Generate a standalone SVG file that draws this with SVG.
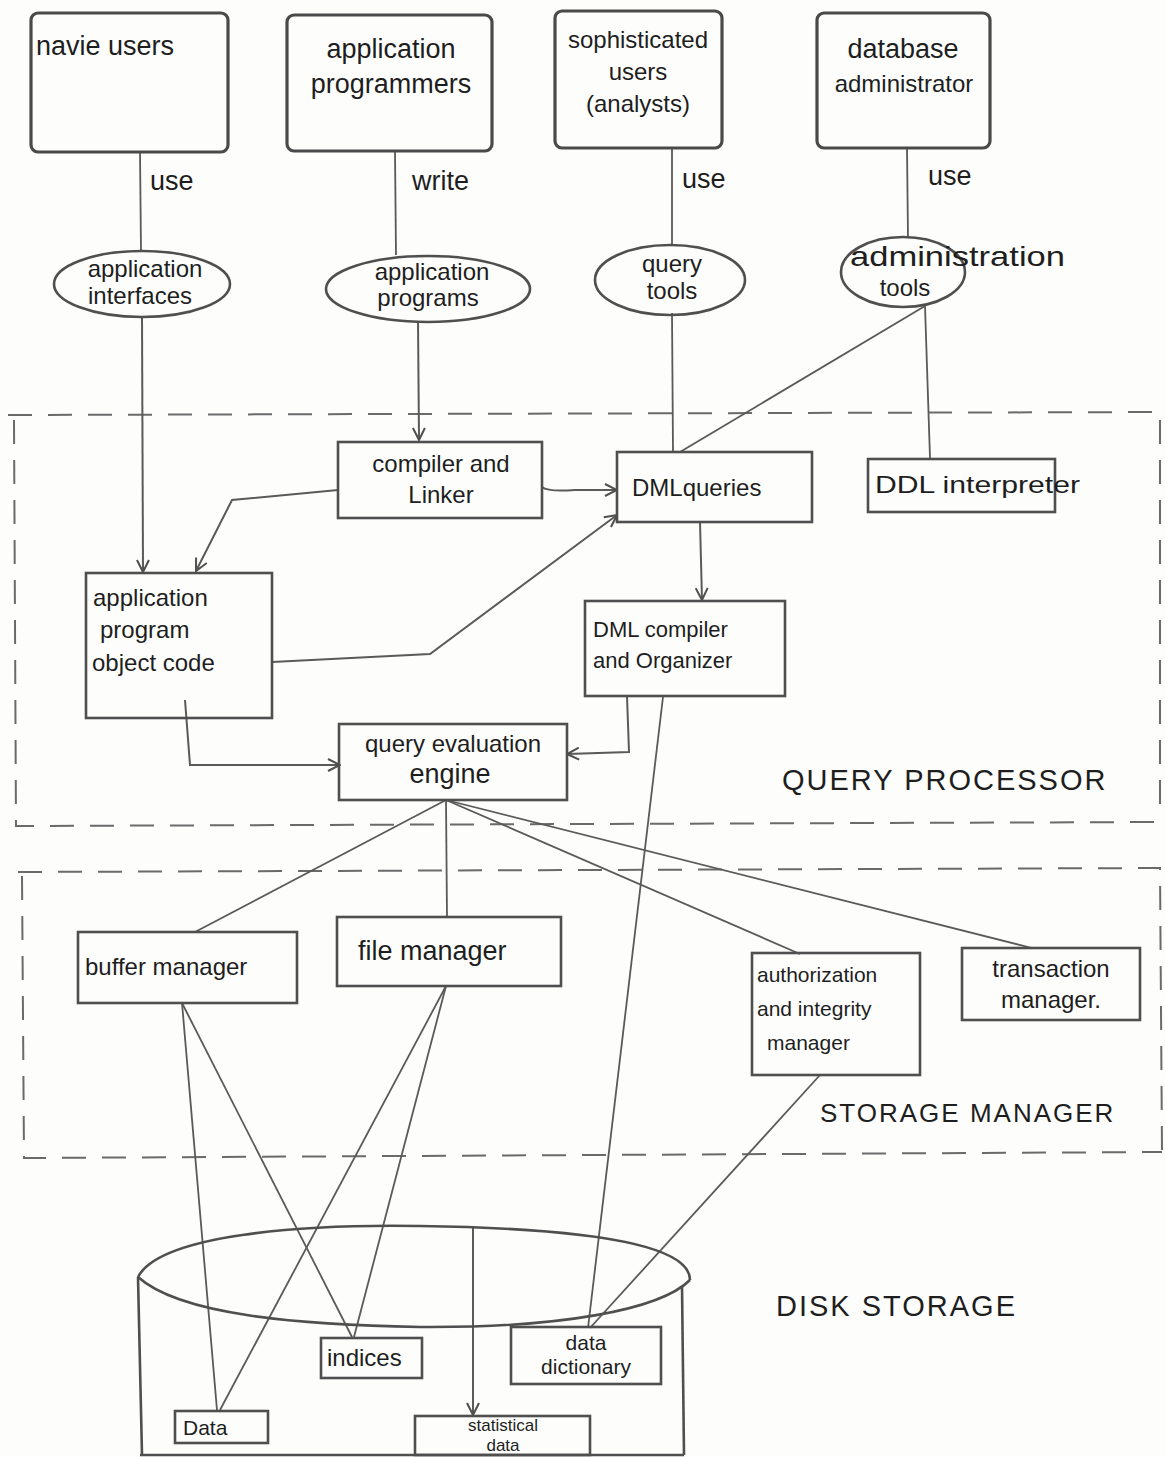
<svg xmlns="http://www.w3.org/2000/svg" width="1165" height="1457" viewBox="0 0 1165 1457">
  <defs>
    <style>
      .bg { fill: #fdfdfc; }
      .user { fill: none; stroke: #4a4a4a; stroke-width: 3.2; }
      .box { fill: none; stroke: #4f4f4f; stroke-width: 2.6; }
      .oval { fill: none; stroke: #4f4f4f; stroke-width: 2.6; }
      .ln { fill: none; stroke: #5a5a5a; stroke-width: 1.8; }
      .arr { fill: none; stroke: #5a5a5a; stroke-width: 2; marker-end: url(#head); }
      .dash { fill: none; stroke: #6a6a6a; stroke-width: 2; stroke-dasharray: 24 16; }
      text { font-family: "Liberation Sans", "DejaVu Sans", sans-serif; fill: #1e1e1e; }
      .t { font-size: 27px; }
      .m { font-size: 24px; }
      .s { font-size: 21px; }
      .xs { font-size: 17px; }
      .c { text-anchor: middle; }
      .cap { font-size: 29px; letter-spacing: 2px; }
    </style>
    <marker id="head" viewBox="0 0 14 14" refX="13" refY="7" markerWidth="14" markerHeight="14" markerUnits="userSpaceOnUse" orient="auto">
      <path d="M1,1 L13,7 L1,13" fill="none" stroke="#4f4f4f" stroke-width="2"/>
    </marker>
  </defs>

  <rect class="bg" x="0" y="0" width="1165" height="1457"/>

  <!-- region borders -->
  <g id="regions">
    <path class="dash" d="M8,415 L1160,412 L1160,820"/>
    <path class="dash" d="M14,420 L16,826 L1160,822"/>
    <path class="dash" d="M18,872 L1160,868 L1162,1150"/>
    <path class="dash" d="M22,876 L24,1158 L1162,1152"/>
    <text class="cap" x="782" y="790">QUERY PROCESSOR</text>
    <text class="cap" x="820" y="1122" style="font-size:26px">STORAGE MANAGER</text>
    <text class="cap" x="776" y="1316">DISK STORAGE</text>
  </g>

  <!-- connectors -->
  <g id="connectors">
    <!-- users to their tools -->
    <line class="ln" x1="140" y1="152" x2="141" y2="251"/>
    <line class="ln" x1="395" y1="152" x2="396" y2="255"/>
    <line class="ln" x1="672" y1="148" x2="672" y2="245"/>
    <line class="ln" x1="907" y1="148" x2="908" y2="238"/>
    <text class="t" x="150" y="190">use</text>
    <text class="t" x="412" y="190">write</text>
    <text class="t" x="682" y="188">use</text>
    <text class="t" x="928" y="185">use</text>

    <!-- tools into the query processor -->
    <line class="arr" x1="142" y1="316" x2="143" y2="572"/>
    <line class="arr" x1="418" y1="321" x2="419" y2="440"/>
    <line class="ln" x1="672" y1="313" x2="673" y2="452"/>
    <line class="ln" x1="925" y1="306" x2="930" y2="458"/>
    <line class="ln" x1="925" y1="306" x2="680" y2="452"/>

    <!-- query processor internals -->
    <path class="arr" d="M542,487 Q548,492 575,490 L617,490"/>
    <path class="arr" d="M338,490 L232,500 L196,571"/>
    <path class="arr" d="M272,662 L430,654 L617,515"/>
    <line class="arr" x1="700" y1="522" x2="702" y2="600"/>
    <path class="arr" d="M185,700 L190,765 L340,765"/>
    <path class="arr" d="M627,696 L629,752 L567,754"/>

    <!-- query evaluation engine to storage manager -->
    <line class="ln" x1="446" y1="800" x2="195" y2="932"/>
    <line class="ln" x1="446" y1="800" x2="447" y2="918"/>
    <line class="ln" x1="446" y1="800" x2="800" y2="954"/>
    <line class="ln" x1="446" y1="800" x2="1032" y2="948"/>

    <!-- storage manager to disk -->
    <line class="ln" x1="182" y1="1003" x2="217" y2="1410"/>
    <line class="ln" x1="182" y1="1003" x2="352" y2="1337"/>
    <line class="ln" x1="446" y1="986" x2="220" y2="1410"/>
    <line class="ln" x1="446" y1="986" x2="354" y2="1337"/>
    <line class="ln" x1="663" y1="697" x2="588" y2="1328"/>
    <line class="ln" x1="820" y1="1075" x2="590" y2="1328"/>
    <line class="arr" x1="473" y1="1227" x2="473" y2="1415"/>
  </g>

  <!-- users -->
  <g id="naive-users">
    <rect class="user" x="31" y="13" width="197" height="139" rx="7"/>
    <text class="t" x="36" y="55">navie users</text>
  </g>
  <g id="application-programmers">
    <rect class="user" x="287" y="15" width="205" height="136" rx="7"/>
    <text class="t c" x="391" y="58">application</text>
    <text class="t c" x="391" y="93">programmers</text>
  </g>
  <g id="sophisticated-users">
    <rect class="user" x="555" y="11" width="167" height="137" rx="7"/>
    <text class="m c" x="638" y="48">sophisticated</text>
    <text class="m c" x="638" y="80">users</text>
    <text class="m c" x="638" y="112">(analysts)</text>
  </g>
  <g id="database-administrator">
    <rect class="user" x="817" y="13" width="173" height="135" rx="7"/>
    <text class="t c" x="903" y="58">database</text>
    <text class="m c" x="904" y="92">administrator</text>
  </g>

  <!-- tools -->
  <g id="application-interfaces">
    <ellipse class="oval" cx="142" cy="284" rx="88" ry="33"/>
    <text class="m c" x="145" y="277">application</text>
    <text class="m c" x="140" y="304">interfaces</text>
  </g>
  <g id="application-programs">
    <ellipse class="oval" cx="428" cy="289" rx="102" ry="33"/>
    <text class="m c" x="432" y="280">application</text>
    <text class="m c" x="428" y="306">programs</text>
  </g>
  <g id="query-tools">
    <ellipse class="oval" cx="670" cy="280" rx="75" ry="35"/>
    <text class="m c" x="672" y="272">query</text>
    <text class="m c" x="672" y="299">tools</text>
  </g>
  <g id="administration-tools">
    <ellipse class="oval" cx="903" cy="272" rx="62" ry="35"/>
    <text x="850" y="266" style="font-size:28px" textLength="215" lengthAdjust="spacingAndGlyphs">administration</text>
    <text class="m c" x="905" y="296">tools</text>
  </g>

  <!-- query processor -->
  <g id="compiler-linker">
    <rect class="box" x="338" y="442" width="204" height="76"/>
    <text class="m c" x="441" y="472">compiler and</text>
    <text class="m c" x="441" y="503">Linker</text>
  </g>
  <g id="dml-queries">
    <rect class="box" x="617" y="452" width="195" height="70"/>
    <text class="m" x="632" y="496">DMLqueries</text>
  </g>
  <g id="ddl-interpreter">
    <rect class="box" x="868" y="459" width="187" height="53"/>
    <text x="875" y="493" style="font-size:24px" textLength="205" lengthAdjust="spacingAndGlyphs">DDL interpreter</text>
  </g>
  <g id="object-code">
    <rect class="box" x="86" y="573" width="186" height="145"/>
    <text class="m" x="93" y="606">application</text>
    <text class="m" x="100" y="638">program</text>
    <text class="m" x="92" y="671">object code</text>
  </g>
  <g id="dml-compiler">
    <rect class="box" x="585" y="601" width="200" height="95"/>
    <text x="593" y="637" style="font-size:22px">DML compiler</text>
    <text x="593" y="668" style="font-size:22px">and Organizer</text>
  </g>
  <g id="query-evaluation-engine">
    <rect class="box" x="339" y="724" width="228" height="76"/>
    <text class="m c" x="453" y="752">query evaluation</text>
    <text class="t c" x="450" y="783">engine</text>
  </g>

  <!-- storage manager -->
  <g id="buffer-manager">
    <rect class="box" x="78" y="932" width="219" height="71"/>
    <text class="m" x="85" y="975">buffer manager</text>
  </g>
  <g id="file-manager">
    <rect class="box" x="337" y="917" width="224" height="69"/>
    <text class="t" x="358" y="960">file manager</text>
  </g>
  <g id="authorization-integrity-manager">
    <rect class="box" x="752" y="953" width="168" height="122"/>
    <text class="s" x="757" y="982">authorization</text>
    <text class="s" x="757" y="1016">and integrity</text>
    <text class="s" x="767" y="1050">manager</text>
  </g>
  <g id="transaction-manager">
    <rect class="box" x="962" y="948" width="178" height="72"/>
    <text class="m c" x="1051" y="977">transaction</text>
    <text class="m c" x="1051" y="1008">manager.</text>
  </g>

  <!-- disk storage -->
  <g id="disk">
    <path class="oval" d="M138,1277 C160,1235 300,1224 420,1226 C560,1228 690,1240 690,1280"/>
    <path class="oval" d="M138,1277 C180,1315 300,1325 420,1327 C560,1328 660,1310 690,1280"/>
    <line class="oval" x1="138" y1="1277" x2="142" y2="1455"/>
    <line class="oval" x1="682" y1="1286" x2="684" y2="1455"/>
    <line class="oval" x1="140" y1="1455" x2="684" y2="1455"/>
  </g>
  <g id="indices">
    <rect class="box" x="321" y="1338" width="101" height="40"/>
    <text class="m" x="327" y="1366">indices</text>
  </g>
  <g id="data-dictionary">
    <rect class="box" x="511" y="1327" width="150" height="57"/>
    <text class="s c" x="586" y="1350">data</text>
    <text class="s c" x="586" y="1374">dictionary</text>
  </g>
  <g id="data">
    <rect class="box" x="175" y="1411" width="93" height="32"/>
    <text class="s" x="183" y="1435">Data</text>
  </g>
  <g id="statistical-data">
    <rect class="box" x="415" y="1416" width="175" height="39"/>
    <text class="xs c" x="503" y="1431">statistical</text>
    <text class="xs c" x="503" y="1451">data</text>
  </g>
</svg>
